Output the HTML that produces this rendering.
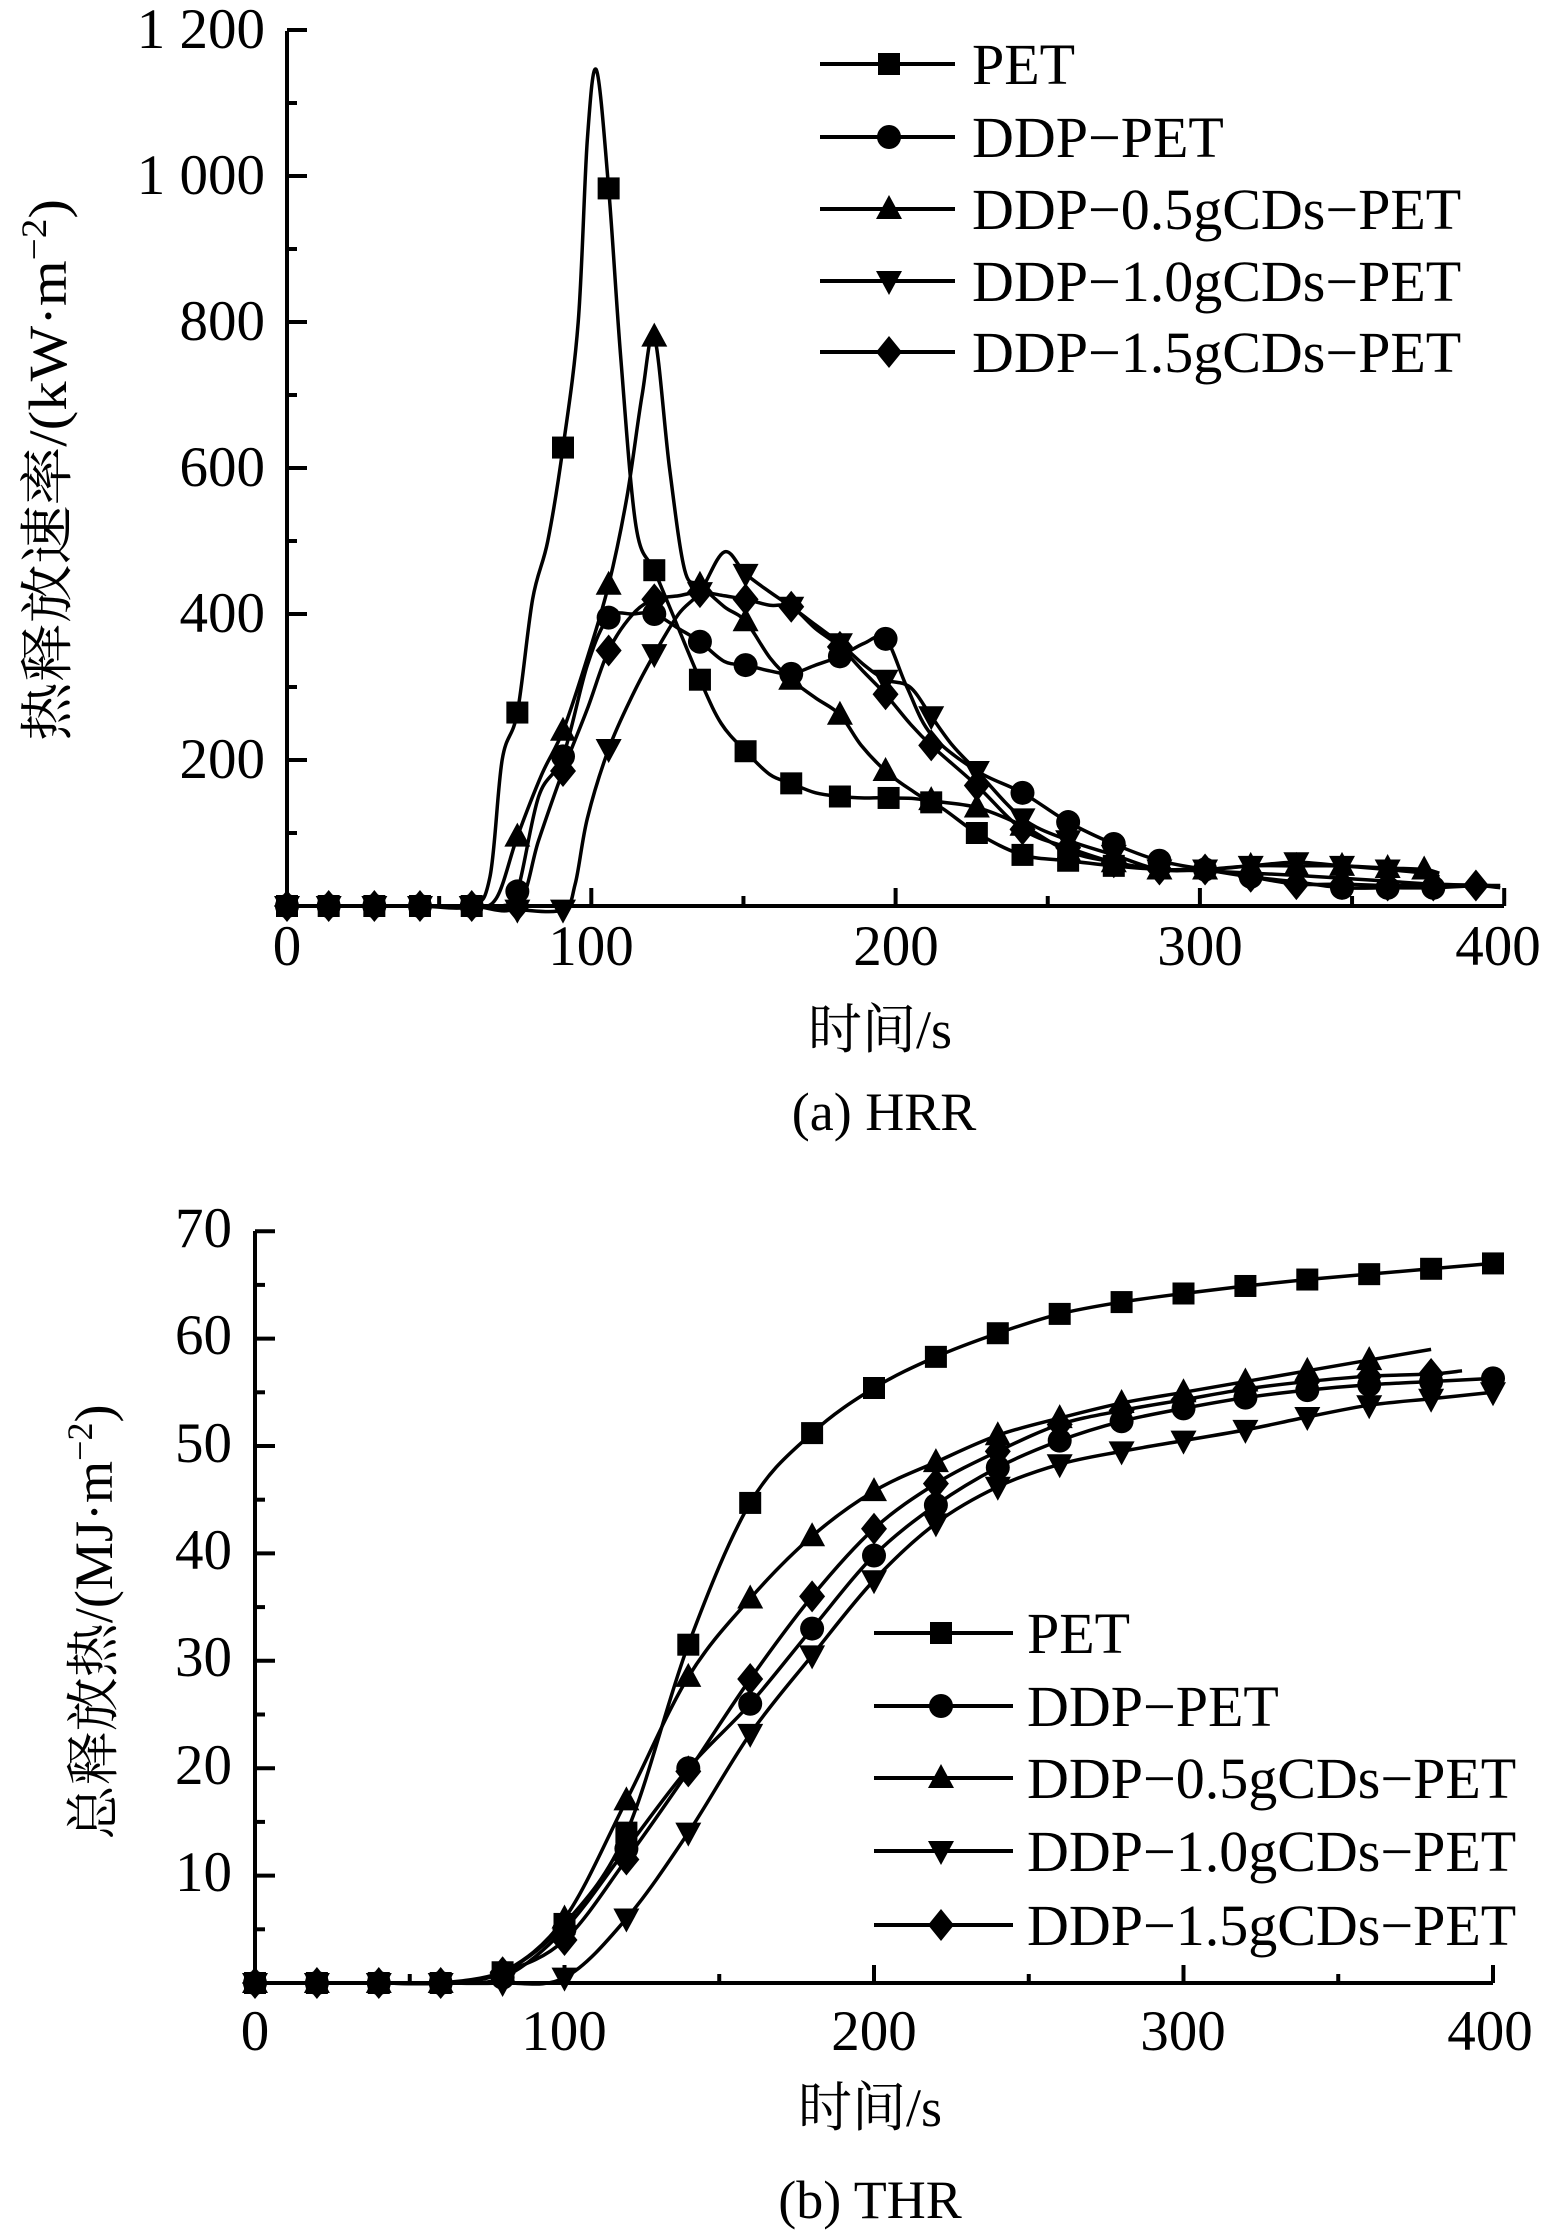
<!DOCTYPE html>
<html><head><meta charset="utf-8"><style>
html,body{margin:0;padding:0;background:#fff;}
svg{display:block;}
text{font-family:"Liberation Serif","Noto Serif CJK SC","Noto Sans CJK SC",serif;fill:#000;}
</style></head><body>
<svg id="s" width="1546" height="2237" viewBox="0 0 1546 2237" xmlns="http://www.w3.org/2000/svg">
<g stroke="#000" stroke-width="4" fill="none">
<path d="M287 31 V906 H1504"/>
<path d="M255 1231 V1983 H1493"/>
</g>
<g id="ticks" stroke="#000" stroke-width="4"></g>
<g id="data"></g>
<g font-size="57" text-anchor="end">
<text x="265" y="48">1 200</text><text x="265" y="194">1 000</text><text x="265" y="340">800</text><text x="265" y="486">600</text><text x="265" y="632">400</text><text x="265" y="778">200</text>
<text x="232" y="1247">70</text><text x="232" y="1354">60</text><text x="232" y="1462">50</text><text x="232" y="1569">40</text><text x="232" y="1676">30</text><text x="232" y="1784">20</text><text x="232" y="1891">10</text>
</g>
<g font-size="57" text-anchor="middle">
<text x="287" y="965">0</text><text x="591" y="965">100</text><text x="896" y="965">200</text><text x="1200" y="965">300</text><text x="1498" y="965">400</text>
<text x="255" y="2050">0</text><text x="564" y="2050">100</text><text x="874" y="2050">200</text><text x="1183" y="2050">300</text><text x="1490" y="2050">400</text>
<text x="880" y="1048" font-size="54">时间/s</text>
<text x="884" y="1130" font-size="54">(a) HRR</text>
<text x="870" y="2126" font-size="54">时间/s</text>
<text x="870" y="2218" font-size="54">(b) THR</text>
<text transform="translate(66,470) rotate(-90)" font-size="54" textLength="542" lengthAdjust="spacingAndGlyphs">热释放速率/(kW·m<tspan font-size="36" dy="-20">−2</tspan><tspan dy="20">)</tspan></text>
<text transform="translate(112,1622) rotate(-90)" font-size="54" textLength="435" lengthAdjust="spacingAndGlyphs">总释放热/(MJ·m<tspan font-size="36" dy="-20">−2</tspan><tspan dy="20">)</tspan></text>
</g>
<g id="leg" font-size="58"></g>
</svg>
<script>
var NS="http://www.w3.org/2000/svg";
function el(p,n,a){var e=document.createElementNS(NS,n);for(var k in a)e.setAttribute(k,a[k]);p.appendChild(e);return e;}
var T=document.getElementById('ticks'),D=document.getElementById('data'),L=document.getElementById('leg');
for(var v=100;v<=1200;v+=100){var y=906-0.73*v;el(T,'line',{x1:287,y1:y,x2:287+(v%200==0?20:10),y2:y});}
for(var t=50;t<=400;t+=50){var x=287+3.043*t;el(T,'line',{x1:x,y1:906,x2:x,y2:906-(t%100==0?18:10)});}
for(var v=5;v<=70;v+=5){var y=1983-10.74*v;el(T,'line',{x1:255,y1:y,x2:255+(v%10==0?20:10),y2:y});}
for(var t=50;t<=400;t+=50){var x=255+3.095*t;el(T,'line',{x1:x,y1:1983,x2:x,y2:1983-(t%100==0?18:9)});}
function marker(g,type,x,y){
 var s=11;
 if(type=='sq')el(g,'rect',{x:x-s,y:y-s,width:2*s,height:2*s});
 else if(type=='ci')el(g,'circle',{cx:x,cy:y,r:s+1});
 else if(type=='tu')el(g,'polygon',{points:(x-13)+','+(y+10)+' '+(x+13)+','+(y+10)+' '+x+','+(y-14)});
 else if(type=='td')el(g,'polygon',{points:(x-13)+','+(y-10)+' '+(x+13)+','+(y-10)+' '+x+','+(y+14)});
 else el(g,'polygon',{points:x+','+(y-16)+' '+(x+13)+','+y+' '+x+','+(y+16)+' '+(x-13)+','+y});
}
function curve(pts){
 var d='M'+pts[0][0]+' '+pts[0][1];
 for(var i=0;i<pts.length-1;i++){
  var p0=pts[i-1]||pts[i],p1=pts[i],p2=pts[i+1],p3=pts[i+2]||p2;
  d+=' C'+(p1[0]+(p2[0]-p0[0])/6)+' '+(p1[1]+(p2[1]-p0[1])/6)+' '+(p2[0]-(p3[0]-p1[0])/6)+' '+(p2[1]-(p3[1]-p1[1])/6)+' '+p2[0]+' '+p2[1];
 }
 return d;
}
function series(line,marks,type,X,Y){
 var pts=line.map(function(p){return [X(p[0]),Y(p[1])];});
 el(D,'path',{d:curve(pts),fill:'none',stroke:'#000','stroke-width':3.5});
 var g=el(D,'g',{fill:'#000'});
 marks.forEach(function(p){marker(g,type,X(p[0]),Y(p[1]));});
}
var X1=function(t){return 287+3.043*(t>10?t-1.3:t)},Y1=function(v){return 906-0.73*v};
var X2=function(t){return 255+3.095*t},Y2=function(v){return 1983-10.74*v};
var pet=[[0,0],[15,0],[30,0],[45,0],[62,0],[68,40],[72,200],[77,265],[82,420],[87,500],[92,628],[97,800],[100,1050],[103,1145],[107,983],[111,750],[116,520],[122,460],[128,400],[137,310],[144,250],[152,212],[160,180],[167,168],[175,155],[183,150],[191,148],[199,148],[213,142],[228,100],[243,70],[258,62],[273,55],[288,50],[303,48],[318,45],[333,42],[348,38],[363,34],[378,30],[400,28]];
series(pet,pet.filter(function(p,i){return [0,15,30,45,62,77,92,107,122,137,152,167,183,199,213,228,243,258,273].indexOf(p[0])>=0;}),'sq',X1,Y1);
var ddp=[[0,0],[15,0],[30,0],[45,0],[62,0],[72,0],[77,20],[84,150],[92,205],[100,330],[107,395],[115,400],[122,400],[130,380],[137,362],[145,335],[152,330],[160,322],[167,318],[175,330],[183,342],[191,360],[198,366],[205,300],[213,235],[228,185],[243,155],[258,115],[273,85],[288,62],[303,50],[318,40],[333,33],[348,25],[363,25],[378,25],[392,28]];
series(ddp,ddp.filter(function(p){return [0,15,30,45,62,77,92,107,122,137,152,167,183,198,243,258,273,288,303,318,348,363,378].indexOf(p[0])>=0;}),'ci',X1,Y1);
var d05=[[0,0],[15,0],[30,0],[45,0],[62,0],[70,10],[77,95],[85,180],[92,240],[100,340],[107,440],[113,560],[118,700],[122,780],[127,600],[132,460],[137,440],[145,410],[152,390],[160,340],[167,310],[175,285],[183,262],[190,220],[198,185],[206,160],[213,145],[228,135],[243,110],[258,75],[273,60],[288,50],[303,50],[318,55],[333,55],[348,55],[363,52],[375,50],[380,45]];
series(d05,d05.filter(function(p){return [77,92,107,122,137,152,167,183,198,213,228,243,258,273,288,303,318,333,348,363,375].indexOf(p[0])>=0;}),'tu',X1,Y1);
var d10=[[0,0],[15,0],[30,0],[45,0],[62,0],[77,-5],[92,-5],[96,30],[100,120],[107,215],[115,290],[122,345],[130,400],[137,430],[145,485],[152,455],[160,430],[167,410],[175,385],[183,360],[191,330],[198,310],[206,300],[213,260],[220,220],[228,185],[243,120],[258,90],[273,70],[288,50],[303,50],[318,55],[333,60],[348,55],[363,50],[375,45],[380,40]];
series(d10,d10.filter(function(p){return [0,15,30,45,62,77,92,107,122,137,152,167,183,198,213,228,243,258,273,288,303,318,333,348,363].indexOf(p[0])>=0;}),'td',X1,Y1);
var d15=[[0,0],[15,0],[30,0],[45,0],[62,0],[77,0],[84,90],[92,185],[100,270],[107,350],[115,400],[122,420],[130,425],[137,430],[145,425],[152,420],[160,412],[167,410],[175,380],[183,355],[191,320],[198,290],[206,250],[213,220],[228,165],[243,105],[258,80],[273,60],[288,50],[303,50],[318,40],[333,30],[348,30],[363,28],[378,28],[392,28],[400,25]];
series(d15,d15.filter(function(p){return [0,15,30,45,62,77,92,107,122,137,152,167,183,198,213,228,243,258,273,288,303,318,333,348,363,378,392].indexOf(p[0])>=0;}),'di',X1,Y1);
function sr(a,type,end){var pts=a.map(function(v,i){return [i*20,v];});if(end)pts.push(end);var m=a.map(function(v,i){return [i*20,v];});series(pts,m,type,X2,Y2);}
sr([0,0,0,0,1,5.5,14,31.5,44.7,51.2,55.4,58.3,60.5,62.3,63.4,64.2,64.9,65.5,66,66.5,67],'sq');
sr([0,0,0,0,0.5,5,12.5,20,26,33,39.8,44.5,48,50.5,52.3,53.5,54.5,55.2,55.7,56,56.3],'ci');
sr([0,0,0,0,1,6,17,28.5,35.8,41.6,45.8,48.5,51,52.6,54,55,56,57,58],'tu',[380,59]);
sr([0,0,0,0,0,0.5,6,14,23.2,30.5,37.5,42.8,46.2,48.3,49.5,50.5,51.5,52.7,53.8,54.4,55],'td');
sr([0,0,0,0,1,4,11.5,19.7,28.3,36,42.3,46.5,49.5,52,53.3,54.3,55.3,56,56.5,56.7],'di',[390,57]);
var names=['PET','DDP−PET','DDP−0.5gCDs−PET','DDP−1.0gCDs−PET','DDP−1.5gCDs−PET'],types=['sq','ci','tu','td','di'];
function legend(x1,x2,xm,xt,ys){
 ys.forEach(function(y,i){
  el(L,'line',{x1:x1,y1:y,x2:x2,y2:y,stroke:'#000','stroke-width':4});
  var g=el(L,'g',{fill:'#000'});marker(g,types[i],xm,y);
  var t=el(L,'text',{x:xt,y:y+20});t.textContent=names[i];
 });
}
legend(820,955,889,972,[64,137,209,281,352]);
legend(874,1013,941,1027,[1633,1706,1778,1851,1925]);
</script>
</body></html>
